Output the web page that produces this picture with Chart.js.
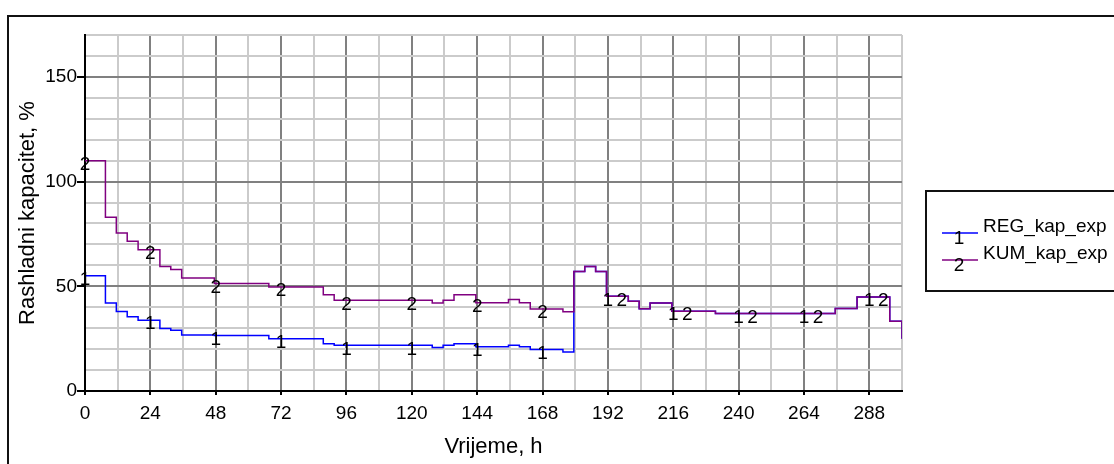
<!DOCTYPE html>
<html>
<head>
<meta charset="utf-8">
<script src="https://cdn.jsdelivr.net/npm/chart.js@4"></script>
<style>
body { margin:0; background:#fff }
canvas { display:block }
</style>
</head>
<body>
<canvas id="graph" width="1114" height="464"></canvas>
<script>
// step start times (h) and the value that holds from there on
const hours  = [0, 7.5, 11.5, 15.5, 19.5, 27.5, 31.5, 35.5, 47.5, 67.5, 87.5, 91.5, 127.5, 131.5, 135.5, 143.5, 155.5, 159.5, 163.5, 175.5,
                179.5, 183.5, 187.5, 191.5, 199.5, 203.5, 207.5, 215.5, 231.5, 275.5, 283.5, 295.5, 300]
const regKap = [55, 42, 38, 35.5, 33.8, 29.8, 29, 26.7, 26.5, 25, 22.6, 21.8, 20.8, 21.8, 22.6, 21.1, 21.9, 21.1, 19.8, 18.6,
                57.1, 59.5, 57.1, 45.2, 42.9, 39.3, 42, 38.1, 37, 39.4, 44.9, 33.3, 25]
const kumKap = [110, 83, 75.5, 71.5, 67.5, 59.5, 58, 54, 51.3, 49.7, 46, 43.3, 42, 43.3, 46, 42.2, 43.7, 42.2, 39.2, 37.9,
                57.1, 59.5, 57.1, 45.2, 42.9, 39.3, 42, 38.1, 37, 39.4, 44.9, 33.3, 25]
const markerHours = [0, 24, 48, 72, 96, 120, 144, 168, 192, 216, 240, 264, 288]
const seriesNames = ['REG_kap_exp', 'KUM_kap_exp']
const xTitle = 'Vrijeme, h'
const yTitle = 'Rashladni kapacitet, %'

const FONT = '"Liberation Sans", Arial, sans-serif'
Chart.defaults.font.family = FONT
Chart.defaults.font.size = 19
Chart.defaults.color = '#000'

function points(vals){ return hours.map((h,i) => ({x: h, y: vals[i]})) }

function valueAt(vals, h){ // value of the step series at hour h
  let v = vals[0]
  hours.forEach((t,i) => { if (t <= h) v = vals[i] })
  return v
}

const frame = {
  id: 'frame',
  beforeDraw(chart){
    const ctx = chart.ctx
    ctx.save()
    ctx.fillStyle = '#fff'
    ctx.fillRect(0, 0, chart.width, chart.height)
    ctx.strokeStyle = '#111'
    ctx.lineWidth = 2
    ctx.strokeRect(8, 16, chart.width + 10, chart.height + 10)
    ctx.restore()
  }
}

// the little "1" / "2" tags sitting on the lines
const markers = {
  id: 'markers',
  afterDatasetsDraw(chart){
    const {ctx, scales: {x, y}} = chart
    ctx.save()
    ctx.font = '19px ' + FONT
    ctx.textAlign = 'center'
    ctx.textBaseline = 'middle'
    ctx.fillStyle = '#000'
    for (const h of markerHours){
      const r = valueAt(regKap, h), k = valueAt(kumKap, h)
      const px = x.getPixelForValue(h)
      ctx.fillText('1', px, y.getPixelForValue(r) + 4)
      ctx.fillText('2', px + (r === k ? 14 : 0), y.getPixelForValue(k) + 4)
    }
    ctx.restore()
  }
}

const legendBox = {
  id: 'legendBox',
  afterDraw(chart){
    const ctx = chart.ctx
    ctx.save()
    ctx.strokeStyle = '#111'
    ctx.lineWidth = 2
    ctx.strokeRect(926, 191, 220, 100)
    ctx.font = '19px ' + FONT
    ctx.textBaseline = 'middle'
    chart.data.datasets.forEach((ds, i) => {
      const ly = 233 + i * 27
      ctx.strokeStyle = ds.borderColor
      ctx.lineWidth = 1.5
      ctx.beginPath(); ctx.moveTo(942, ly); ctx.lineTo(978, ly); ctx.stroke()
      ctx.fillStyle = '#000'
      ctx.textAlign = 'center'
      ctx.fillText(String(i + 1), 959, ly + 6)
      ctx.textAlign = 'left'
      ctx.fillText(ds.label, 983, ly - 6)
    })
    ctx.restore()
  }
}

const major = (c, step, a, b) => (c.tick && c.tick.value % step === 0) ? a : b

new Chart(document.getElementById('graph'), {
  type: 'line',
  data: {
    datasets: [
      {label: seriesNames[0], data: points(regKap), borderColor: '#0000ff', borderWidth: 1.5, stepped: true, pointRadius: 0, order: 2},
      {label: seriesNames[1], data: points(kumKap), borderColor: '#800080', borderWidth: 1.5, stepped: true, pointRadius: 0, order: 1},
    ]
  },
  options: {
    responsive: false,
    animation: false,
    devicePixelRatio: 1,
    layout: {padding: {left: 0, top: 35, right: 212, bottom: 0}},
    plugins: {legend: {display: false}, tooltip: {enabled: false}},
    scales: {
      x: {
        type: 'linear', min: 0, max: 300,
        afterFit: s => { s.height = 73 },
        ticks: {stepSize: 12, padding: 7, maxRotation: 0, autoSkip: false,
                callback: v => v % 24 === 0 ? v : ''},
        grid: {lineWidth: 2, tickLength: 4, tickWidth: 2,
               color: c => major(c, 24, '#808080', '#cbcbcb'),
               tickColor: c => major(c, 24, '#000', 'rgba(0,0,0,0)')},
        border: {color: '#000', width: 2},
        title: {display: true, text: xTitle, font: {size: 22}, padding: {top: 0, bottom: 4}}
      },
      y: {
        min: 0, max: 170,
        afterFit: s => { s.width = 85 },
        ticks: {stepSize: 10, padding: 0, autoSkip: false,
                callback: v => v % 50 === 0 ? v : ''},
        grid: {lineWidth: 2, tickLength: 8, tickWidth: 2,
               color: c => major(c, 50, '#808080', '#cbcbcb'),
               tickColor: c => major(c, 50, '#000', 'rgba(0,0,0,0)')},
        border: {color: '#000', width: 2},
        title: {display: true, text: yTitle, font: {size: 22}, padding: {top: 15, bottom: 0}}
      }
    }
  },
  plugins: [frame, markers, legendBox]
})
</script>
</body>
</html>
